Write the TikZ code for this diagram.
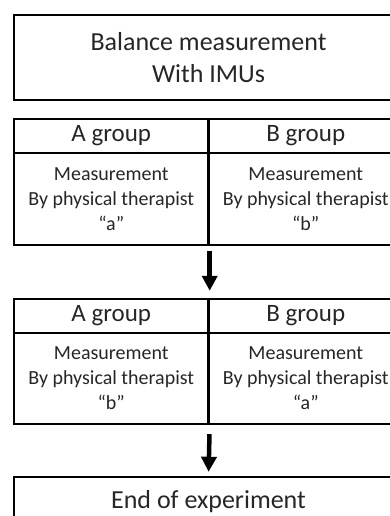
\documentclass[tikz,border=0pt]{standalone}
\usepackage{fontspec}
\setmainfont{Carlito}
\usetikzlibrary{arrows.meta}
\begin{document}
\begin{tikzpicture}[x=1pt,y=-1pt,
  box/.style={draw=black, line width=2.4pt, inner sep=0pt, align=center, text=black!85, minimum width=194.5pt},
  big/.style={font=\fontsize{26}{31.7}\selectfont},
  head/.style={box, minimum height=34pt, font=\fontsize{25}{30}\selectfont},
  body/.style={box, font=\fontsize{20}{25}\selectfont},
  flow/.style={line width=4.5pt, -{Triangle[width=15pt,length=15pt]}}
]
\useasboundingbox (0,0) rectangle (390,516);
\clip (0,0) rectangle (390,516);
\node[box, big, minimum width=389pt, minimum height=85pt] (top) at (208.5,57.5) {Balance measurement\\With IMUs};
% table 1
\node[head] (hA1) at (111.25,136) {A group};
\node[head] (hB1) at (305.75,136) {B group};
\node[body, minimum height=92pt] (bA1) at (111.25,199) {Measurement\\By physical therapist\\“a”};
\node[body, minimum height=92pt] (bB1) at (305.75,199) {Measurement\\By physical therapist\\“b”};
% table 2
\node[head] (hA2) at (111.25,316) {A group};
\node[head] (hB2) at (305.75,316) {B group};
\node[body, minimum height=91pt] (bA2) at (111.25,378.5) {Measurement\\By physical therapist\\“b”};
\node[body, minimum height=91pt] (bB2) at (305.75,378.5) {Measurement\\By physical therapist\\“a”};
% end
\node[box, big, minimum width=389pt, minimum height=49pt] (end) at (208.5,501.5) {End of experiment};
% arrows
\draw[flow, shorten <=5pt, shorten >=7pt] (bA1.south east) -- (hA2.north east);
\draw[flow, shorten <=9pt, shorten >=4pt] (bA2.south east) -- (end.north);
\end{tikzpicture}
\end{document}
